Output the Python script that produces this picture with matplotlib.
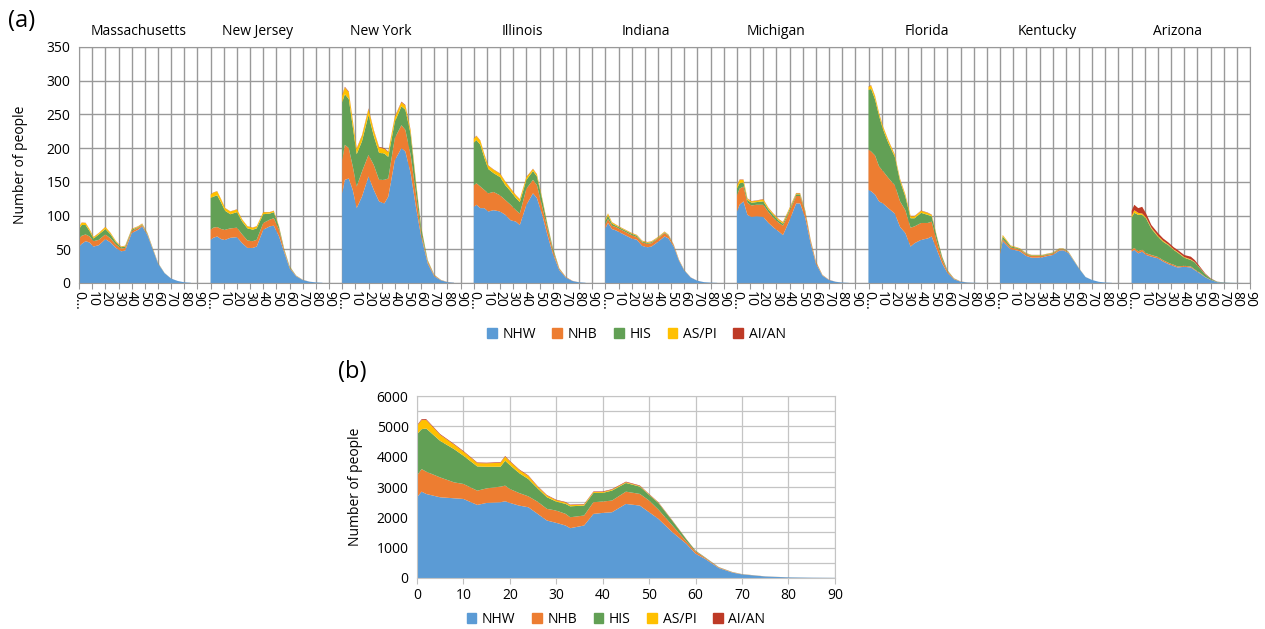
import matplotlib.pyplot as plt
from matplotlib.patches import Patch

plt.rcParams['font.family'] = ['Open Sans', 'DejaVu Sans']

# ---- data, panel (a): per state, ages 0..85 (sparse read of chart)
states = ['Massachusetts', 'New Jersey', 'New York', 'Illinois', 'Indiana',
          'Michigan', 'Florida', 'Kentucky', 'Arizona']
ages = [0, 2, 5, 8, 11, 15, 20, 24, 28, 32, 35, 40, 45, 48, 52, 56, 60, 65, 70, 75, 80, 85]

nhw = [
    [54, 58, 62, 60, 54, 56, 65, 60, 52, 47, 48, 74, 79, 84, 71, 50, 29, 14.5, 6.5, 3, 1, 0.3],
    [64, 67, 69, 65, 64, 67, 68, 59, 52, 52, 54, 79, 84, 85, 69, 45, 22, 10, 4.5, 2, 0.8, 0.3],
    [133, 153, 155, 138, 111, 128, 158, 138, 121, 118, 128, 182, 200, 195, 163, 113, 69, 29, 10, 4, 1.3, 0.4],
    [113, 116, 111, 111, 106, 108, 106, 101, 93, 91, 86, 116, 133, 126, 101, 71, 44, 19, 8, 3, 1, 0.3],
    [81, 89, 80, 78, 75, 71, 66, 64, 55, 53, 54, 61, 69, 66, 54, 33, 18.5, 8, 3.3, 1.2, 0.5, 0.2],
    [106, 116, 121, 101, 98, 99, 98, 89, 82, 76, 71, 93, 118, 118, 96, 59, 29, 11, 4.5, 1.8, 0.6, 0.2],
    [138, 136, 131, 121, 118, 111, 103, 83, 74, 54, 59, 64, 66, 69, 49, 29, 15, 5.5, 2, 0.8, 0.3, 0.1],
    [43, 62, 56, 50, 49, 47, 40, 37.5, 37.5, 38, 39.5, 41.5, 48, 48.5, 44.5, 33, 21.4, 8.7, 4.4, 1.8, 0.6, 0.2],
    [46.5, 49, 44, 46.5, 41.6, 39, 36.6, 31.7, 28, 25, 23, 24, 23, 19, 14, 8.4, 4.5, 1.2, 0.5, 0.2, 0.1, 0],
]
nhb = [
    [12, 12, 10, 9, 8, 8, 7, 6, 5, 4, 4, 3, 3, 2, 1.5, 1, 0.5, 0.2, 0.1, 0, 0, 0],
    [15, 15, 14, 15, 15, 14, 14, 13, 11, 10, 10, 10, 10, 11, 10, 3, 1.5, 0.7, 0.3, 0.1, 0, 0],
    [49, 52, 45, 35, 32, 37, 32, 37, 32, 35, 27, 33, 34, 32, 27, 20, 5, 3, 1.5, 0.5, 0.2, 0.1],
    [32, 32, 32, 27, 27, 27, 24, 22, 23, 17, 17, 24, 20, 19, 12, 10, 5, 2, 0.8, 0.3, 0.1, 0],
    [6, 6, 5, 5, 5, 5, 5, 4, 5, 5, 5, 5, 5, 4, 2, 1, 0.5, 0.3, 0.1, 0, 0, 0],
    [24, 24, 22, 18, 17, 17, 18, 16, 14, 13, 14, 13, 11, 11, 8, 4, 2.5, 0.8, 0.4, 0.1, 0, 0],
    [60, 59, 58, 52, 48, 45, 42, 38, 34, 28, 25, 25, 23, 22, 12, 6, 2.5, 1, 0.3, 0.1, 0, 0],
    [3, 3, 3, 2.5, 2.5, 2.5, 2.5, 2.5, 2.5, 2, 2, 2, 2, 1.5, 1, 0.5, 0.3, 0.1, 0, 0, 0, 0],
    [3, 3, 3, 3, 2.5, 2.5, 2, 2, 2, 2, 1.5, 1.5, 1.5, 1, 1, 0.5, 0.3, 0.1, 0, 0, 0, 0],
]
his = [
    [14, 16, 14, 8, 4, 8, 8, 6, 3.5, 2, 2, 2, 1, 1, 1, 0.7, 0.4, 0.2, 0, 0, 0, 0],
    [47, 46, 47, 39, 28, 21, 23, 19, 18, 17, 17, 13, 9, 9, 4, 1.5, 1.2, 0.3, 0.1, 0, 0, 0],
    [86, 75, 73, 59, 48, 45, 59, 43, 40, 39, 32, 24, 28, 30, 31, 16, 8, 1.5, 0.5, 0.2, 0, 0],
    [63, 64, 62, 48, 36, 28, 27, 22, 20, 18, 17, 13, 13, 13, 11, 5, 3.5, 0.7, 0.2, 0, 0, 0],
    [5, 5, 3, 2, 2, 2, 2, 2, 1.5, 1.5, 1.5, 1, 1, 1, 0.5, 0.3, 0.2, 0, 0, 0, 0, 0],
    [10, 8, 6, 4, 4, 4, 5, 4, 4, 3, 3, 3, 2.5, 2.5, 2, 1, 0.5, 0.2, 0, 0, 0, 0],
    [88, 93, 83, 75, 62, 52, 42, 30, 20, 14, 12, 15, 12, 8, 7, 3.5, 1.2, 0.4, 0.1, 0, 0, 0],
    [4, 4, 3, 2, 1.5, 1.2, 1, 1, 1, 1, 1, 1, 0.8, 0.8, 0.6, 0.4, 0.2, 0.1, 0, 0, 0, 0],
    [47.5, 52, 54, 51.5, 51.4, 39, 30, 27.3, 26, 22, 20.5, 12, 9.5, 10.5, 6.5, 3.8, 1.6, 0.5, 0.3, 0.1, 0, 0],
]
aspi = [
    [3, 3.5, 3, 2.5, 2, 2, 3, 2, 1.5, 1, 1, 1, 1, 1, 0.5, 0.3, 0.1, 0, 0, 0, 0, 0],
    [5, 6, 6, 5, 4, 4, 4, 3, 3, 3, 3, 3, 2, 2, 1, 0.5, 0.3, 0.1, 0, 0, 0, 0],
    [10, 10, 10, 9, 8, 8, 9, 8, 8, 7, 7, 7, 6, 6, 5, 3, 1.5, 0.5, 0.2, 0, 0, 0],
    [6, 6, 6, 5, 5, 5, 5, 5, 4, 4, 4, 4, 3, 3, 2, 1.5, 0.8, 0.3, 0.1, 0, 0, 0],
    [2, 3, 2, 1.5, 1, 1, 1, 1, 1, 1, 1, 1, 1, 0.5, 0.3, 0.2, 0.1, 0, 0, 0, 0, 0],
    [4, 5, 4, 2, 2, 2, 3, 2, 2, 2, 2, 2, 1.5, 1.5, 1, 0.5, 0.3, 0.1, 0, 0, 0, 0],
    [5, 5, 5, 4, 4, 4, 3, 3, 3, 3, 3, 3, 3, 2, 1, 0.5, 0.3, 0.1, 0, 0, 0, 0],
    [1.5, 2, 1.5, 1, 0.8, 0.7, 0.6, 0.5, 0.5, 0.5, 0.5, 0.5, 0.4, 0.4, 0.3, 0.2, 0.1, 0, 0, 0, 0, 0],
    [3, 4, 3, 2, 1.5, 1.5, 1.5, 1.5, 1, 1, 1, 1, 1, 0.5, 0.5, 0.3, 0.1, 0, 0, 0, 0, 0],
]
aian = [
    [0.3, 0.3, 0.3, 0.3, 0.3, 0.3, 0.3, 0.3, 0.3, 0.3, 0.3, 0.3, 0.3, 0.3, 0.2, 0.1, 0.1, 0, 0, 0, 0, 0],
    [0.3, 0.3, 0.3, 0.3, 0.3, 0.3, 0.3, 0.3, 0.3, 0.3, 0.3, 0.3, 0.3, 0.3, 0.2, 0.1, 0.1, 0, 0, 0, 0, 0],
    [1, 1, 1, 1, 1, 1, 1, 1, 1, 1, 1, 1, 1, 1, 1, 0.5, 0.3, 0.1, 0, 0, 0, 0],
    [0.5, 0.5, 0.5, 0.5, 0.5, 0.5, 0.5, 0.5, 0.5, 0.5, 0.5, 0.5, 0.5, 0.5, 0.3, 0.2, 0.1, 0, 0, 0, 0, 0],
    [0.3, 0.3, 0.3, 0.3, 0.3, 0.3, 0.3, 0.3, 0.3, 0.3, 0.3, 0.3, 0.3, 0.3, 0.2, 0.1, 0, 0, 0, 0, 0, 0],
    [0.5, 0.5, 0.5, 0.5, 0.5, 0.5, 0.5, 0.5, 0.5, 0.5, 0.5, 0.5, 0.5, 0.5, 0.3, 0.2, 0.1, 0, 0, 0, 0, 0],
    [0.5, 0.5, 0.5, 0.5, 0.5, 0.5, 0.5, 0.5, 0.5, 0.5, 0.5, 0.5, 0.5, 0.5, 0.3, 0.2, 0.1, 0, 0, 0, 0, 0],
    [0.2, 0.2, 0.2, 0.2, 0.2, 0.2, 0.2, 0.2, 0.2, 0.2, 0.2, 0.2, 0.2, 0.2, 0.1, 0.1, 0, 0, 0, 0, 0, 0],
    [7, 8, 7, 10, 6, 4, 4, 3.5, 3, 3, 3, 3, 4, 3, 2, 1, 0.5, 0.2, 0.1, 0, 0, 0],
]

# ---- data, panel (b): all states together
ages_b = [0, 1, 2, 5, 8, 10, 13, 15, 18, 19, 20, 22, 24, 26, 28, 30, 32, 33, 36, 38,
          40, 42, 45, 48, 50, 52, 55, 58, 60, 62, 65, 68, 70, 75, 80, 85, 90]
nhw_b = [2661, 2847, 2770, 2661, 2628, 2606, 2409, 2475, 2497, 2530, 2475, 2387, 2332, 2113,
         1894, 1818, 1730, 1642, 1730, 2113, 2146, 2168, 2442, 2387, 2168, 1949, 1511, 1128,
         799, 635, 329, 175, 120, 50, 20, 9, 4]
nhb_b = [710, 745, 735, 655, 525, 495, 470, 480, 515, 515, 460, 415, 360, 400, 385, 405, 385,
         360, 330, 385, 375, 385, 405, 385, 385, 305, 220, 80, 75, 35, 20, 13, 6, 3, 1, 0.5, 0.5]
his_b = [1368, 1314, 1424, 1204, 1095, 931, 799, 711, 657, 821, 788, 657, 569, 438, 383, 296,
         329, 361, 328, 306, 284, 329, 285, 241, 186, 219, 153, 70, 25, 15, 8, 5, 3, 1, 0.5, 0.2, 0.1]
aspi_b = [270, 300, 280, 200, 150, 135, 110, 115, 130, 135, 120, 105, 100, 60, 55, 45, 45, 40,
          35, 30, 30, 30, 25, 20, 15, 12, 8, 4, 2, 1.5, 1, 0.5, 0.3, 0.1, 0, 0, 0]
aian_b = [25, 28, 28, 25, 22, 22, 20, 20, 20, 22, 20, 20, 20, 18, 18, 17, 17, 16, 16, 18, 18,
          18, 20, 18, 16, 14, 10, 6, 4, 3, 2, 1, 0.5, 0.3, 0.1, 0, 0]

groups = ['NHW', 'NHB', 'HIS', 'AS/PI', 'AI/AN']
colors = ['#5b9bd5', '#ed7d31', '#62a055', '#ffc000', '#be3a26']

fig = plt.figure(figsize=(12.65, 6.29), dpi=100)

# ---------------- (a)
ax = fig.add_axes([0.0625, 0.5501, 0.9257, 0.3752])
for i in range(len(states)):
    x = [i * 100 + a for a in ages]
    ax.stackplot(x, nhw[i], nhb[i], his[i], aspi[i], aian[i], colors=colors, linewidth=0)

ax.set_xlim(0, 890)
ax.set_ylim(0, 350)
ax.set_yticks(range(0, 351, 50))
ticks = list(range(0, 891, 10))
ax.set_xticks(ticks)
ax.set_xticklabels(['0\u2026' if t % 100 == 0 else str(t % 100) for t in ticks],
                   rotation=-90, fontsize=10)
ax.tick_params(axis='x', length=4, color='#999999', pad=2)
ax.tick_params(axis='y', length=0, labelsize=10, pad=6)
ax.grid(True, color='#999999', lw=1.0)
ax.set_axisbelow(True)
for s in ax.spines.values():
    s.set_color('#999999')
ax.set_ylabel('Number of people', fontsize=10)
ax.yaxis.set_label_coords(-0.0436, 0.5)

title_off = [45, 36, 29, 37, 31, 30, 44, 36, 35]
for i, name in enumerate(states):
    ax.text(i * 100 + title_off[i], 373, name, ha='center', va='center', fontsize=10)

fig.text(0.006, 0.966, '(a)', fontsize=17, va='center')

handles = [Patch(color=c, label=g) for c, g in zip(colors, groups)]
fig.legend(handles=handles, loc='center', bbox_to_anchor=(0.503, 0.468), ncol=5,
           frameon=False, fontsize=10, handlelength=0.7, handleheight=0.7,
           handletextpad=0.4, columnspacing=1.2)

# ---------------- (b)
ax2 = fig.add_axes([0.3296, 0.0811, 0.3304, 0.2893])
ax2.stackplot(ages_b, nhw_b, nhb_b, his_b, aspi_b, aian_b, colors=colors, linewidth=0)
ax2.set_xlim(0, 90)
ax2.set_ylim(0, 6000)
ax2.set_xticks(range(0, 91, 10))
ax2.set_yticks(range(0, 6001, 1000))
ax2.set_yticks(range(500, 6000, 1000), minor=True)
ax2.tick_params(axis='x', length=4, color='#c0c0c0', labelsize=10)
ax2.tick_params(axis='y', which='both', length=0, labelsize=10, pad=6)
ax2.grid(True, which='both', color='#c4c4c4', lw=0.9)
ax2.set_axisbelow(True)
for s in ax2.spines.values():
    s.set_color('#c4c4c4')
ax2.set_ylabel('Number of people', fontsize=10)
ax2.yaxis.set_label_coords(-0.129, 0.5)

fig.text(0.267, 0.408, '(b)', fontsize=17, va='center')

fig.legend(handles=handles, loc='center', bbox_to_anchor=(0.487, 0.015), ncol=5,
           frameon=False, fontsize=10, handlelength=0.7, handleheight=0.7,
           handletextpad=0.4, columnspacing=1.2)

fig.savefig('out.png', dpi=100)
